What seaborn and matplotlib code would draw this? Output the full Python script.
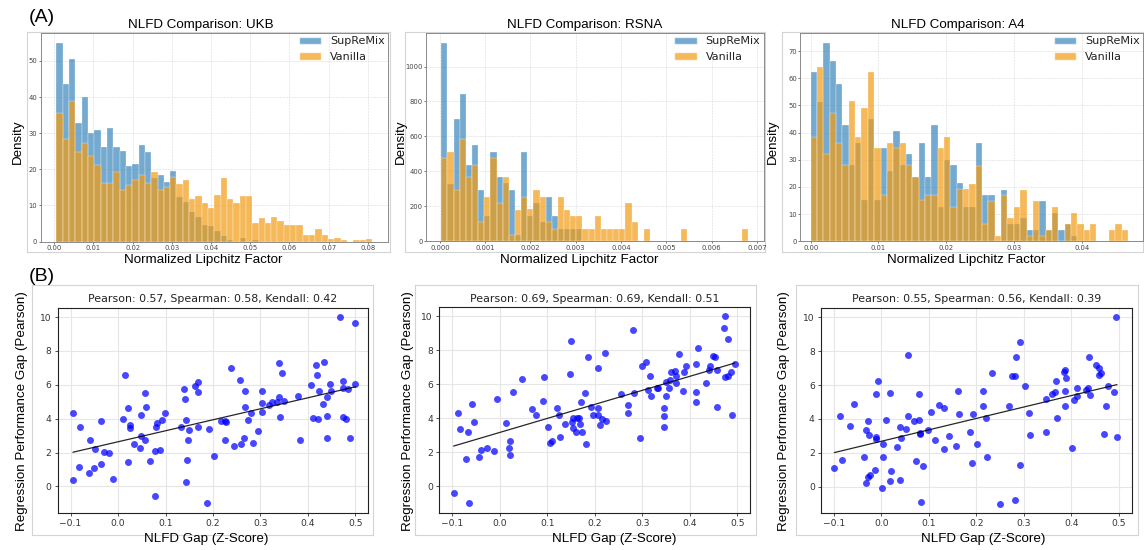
import numpy as np
import pandas as pd
import matplotlib
matplotlib.use("Agg")
import matplotlib.pyplot as plt
from matplotlib.patches import Patch
from matplotlib.ticker import MultipleLocator
import seaborn as sns

sns.set_theme(style="white")
plt.rcParams["font.family"] = ["DejaVu Sans"]

# ---------------- NLFD histograms (density per bin, 50 shared bins) ----------------
ukb_range = (0.0006, 0.0811)
ukb_supremix = [55.0, 43.5, 50.6, 32.9, 40.0, 30.1, 31.0, 26.1, 31.3, 26.1,
                25.0, 21.0, 21.5, 26.8, 24.8, 17.5, 18.4, 16.5, 19.6, 12.3,
                11.0, 8.1, 6.7, 4.7, 4.4, 2.8, 1.6, 0.5, 0.0, 0.9,
                0.0, 0.5, 0, 0, 0, 0, 0, 0, 0, 0,
                0, 0, 0, 0, 0, 0, 0, 0, 0, 0]
ukb_vanilla = [35.7, 28.5, 38.8, 24.7, 27.3, 23.6, 21.2, 16.1, 16.1, 19.3,
               14.4, 15.6, 17.0, 18.4, 16.1, 19.2, 14.2, 15.0, 17.9, 15.8,
               17.0, 11.7, 12.5, 10.7, 9.3, 13.0, 17.7, 11.7, 10.7, 12.5,
               12.5, 5.1, 6.4, 5.0, 6.9, 5.6, 4.7, 4.7, 4.7, 1.9,
               1.9, 3.6, 1.9, 0.7, 0.9, 0.5, 0.0, 0.5, 0.5, 0.7]

rsna_range = (0.00003, 0.00681)
rsna_supremix = [1135, 329, 697, 842, 439, 549, 291, 146, 512, 368,
                 331, 291, 35, 511, 146, 220, 108, 254, 143, 71,
                 71, 71, 71, 0, 0, 0, 0, 0, 0, 0,
                 0, 0, 0, 0, 0, 0, 0, 0, 0, 0,
                 0, 0, 0, 0, 0, 0, 0, 0, 0, 0]
rsna_vanilla = [476, 511, 295, 588, 368, 439, 108, 256, 476, 220,
                368, 35, 181, 254, 183, 291, 254, 108, 71, 254,
                181, 143, 143, 69, 69, 143, 69, 69, 69, 69,
                220, 108, 0, 69, 0, 0, 0, 0, 0, 69,
                0, 0, 0, 0, 0, 0, 0, 0, 0, 69]

a4_range = (0.0, 0.0468)
a4_supremix = [62.2, 51.4, 73.0, 66.3, 57.8, 42.7, 27.9, 36.3, 15.1, 44.9,
               15.1, 34.2, 25.7, 40.6, 27.9, 32.0, 23.6, 36.3, 23.6, 42.8,
               12.8, 29.9, 27.9, 21.5, 12.6, 12.6, 36.3, 16.9, 16.9, 0.0,
               19.0, 6.4, 6.4, 8.5, 4.2, 4.2, 14.7, 4.2, 10.4, 4.2,
               6.4, 2.0, 0, 0, 0, 0, 0, 0, 0, 0]
a4_vanilla = [38.5, 64.3, 32.0, 47.2, 36.3, 27.9, 51.5, 38.5, 49.1, 62.2,
              34.2, 17.2, 36.3, 34.2, 36.3, 27.9, 23.6, 15.1, 17.2, 17.2,
              34.2, 38.5, 12.8, 19.3, 19.3, 21.2, 27.7, 6.4, 14.7, 2.0,
              16.9, 8.5, 12.6, 19.0, 2.0, 14.7, 2.0, 4.2, 12.6, 0.0,
              6.4, 10.4, 6.4, 4.2, 6.4, 0.0, 0.0, 4.2, 6.4, 4.2]

hist_titles = ["NLFD Comparison: UKB", "NLFD Comparison: RSNA", "NLFD Comparison: A4"]
series_names = ["SupReMix", "Vanilla"]

# ---------------- NLFD gap vs. regression performance gap ----------------
ukb_gap_x = [-0.095, -0.094, -0.082, -0.080, -0.062, -0.060, -0.051, -0.049, -0.036, -0.035,
             -0.029, -0.018, -0.010, 0.010, 0.014, 0.021, 0.021, 0.026, 0.026, 0.034,
             0.047, 0.049, 0.049, 0.056, 0.056, 0.059, 0.068, 0.077, 0.077, 0.081,
             0.082, 0.088, 0.093, 0.099, 0.133, 0.139, 0.141, 0.144, 0.144, 0.146,
             0.148, 0.150, 0.162, 0.168, 0.169, 0.169, 0.188, 0.191, 0.203, 0.216,
             0.226, 0.228, 0.226, 0.238, 0.245, 0.256, 0.258, 0.268, 0.268, 0.266,
             0.273, 0.280, 0.284, 0.294, 0.304, 0.303, 0.304, 0.318, 0.324, 0.334,
             0.339, 0.340, 0.342, 0.346, 0.349, 0.379, 0.384, 0.407, 0.410, 0.417,
             0.420, 0.421, 0.424, 0.431, 0.433, 0.440, 0.441, 0.440, 0.446, 0.448,
             0.468, 0.473, 0.473, 0.473, 0.481, 0.484, 0.488, 0.498, 0.500]
ukb_gap_y = [4.31, 0.39, 1.14, 3.53, 0.80, 2.73, 1.10, 2.22, 3.86, 1.31,
             2.02, 1.98, 0.41, 3.98, 6.55, 4.61, 1.47, 3.63, 3.47, 2.49,
             2.29, 4.22, 2.98, 2.76, 5.51, 4.69, 1.51, -0.59, 2.10, 3.53,
             3.76, 2.16, 3.90, 4.35, 3.53, 5.78, 5.18, 3.94, 0.25, 1.59,
             2.76, 3.35, 5.94, 5.55, 6.14, 3.53, -1.00, 3.39, 1.78, 3.84,
             3.84, 3.78, 2.76, 6.98, 2.41, 6.29, 2.53, 5.63, 4.69, 2.88,
             3.90, 4.35, 2.57, 3.27, 5.63, 4.90, 4.41, 4.82, 5.00, 5.00,
             7.31, 5.25, 4.12, 6.71, 5.06, 5.35, 2.76, 6.00, 4.04, 7.16,
             6.57, 3.96, 5.61, 4.86, 7.37, 5.29, 4.18, 2.84, 6.02, 5.65,
             10.0, 6.22, 5.80, 4.12, 3.96, 5.78, 2.88, 6.04, 9.65]

rsna_gap_x = [-0.097, -0.088, -0.083, -0.071, -0.066, -0.064, -0.058, -0.053, -0.043, -0.040,
              -0.026, -0.012, -0.006, 0.013, 0.019, 0.022, 0.022, 0.028, 0.048, 0.068,
              0.077, 0.091, 0.094, 0.102, 0.105, 0.110, 0.121, 0.126, 0.128, 0.137,
              0.149, 0.151, 0.152, 0.155, 0.155, 0.160, 0.163, 0.168, 0.170, 0.172,
              0.173, 0.179, 0.182, 0.187, 0.193, 0.197, 0.207, 0.207, 0.208, 0.211,
              0.216, 0.222, 0.224, 0.256, 0.270, 0.270, 0.281, 0.283, 0.295, 0.299,
              0.308, 0.313, 0.316, 0.318, 0.332, 0.333, 0.345, 0.345, 0.345, 0.350,
              0.351, 0.357, 0.359, 0.360, 0.369, 0.371, 0.372, 0.378, 0.385, 0.388,
              0.393, 0.413, 0.414, 0.414, 0.417, 0.434, 0.440, 0.442, 0.449, 0.454,
              0.457, 0.458, 0.472, 0.475, 0.475, 0.481, 0.481, 0.487, 0.489, 0.495]
rsna_gap_y = [-0.37, 4.28, 3.36, 1.62, 3.18, -1.00, 4.82, 3.77, 1.74, 2.13,
              2.25, 2.09, 5.14, 3.73, 2.25, 2.68, 1.86, 5.53, 6.31, 4.55,
              4.20, 5.02, 6.43, 3.50, 2.56, 2.68, 4.59, 4.16, 2.87, 3.65,
              6.58, 8.52, 3.77, 4.04, 3.42, 3.18, 4.00, 4.04, 3.65, 4.94,
              3.18, 5.49, 2.48, 7.62, 4.67, 4.16, 6.97, 4.20, 4.59, 3.61,
              3.93, 7.81, 3.85, 5.45, 4.75, 4.32, 9.20, 5.49, 2.83, 7.09,
              7.29, 5.64, 6.46, 5.29, 5.80, 5.80, 4.59, 4.12, 3.50, 6.11,
              5.29, 5.76, 6.27, 6.74, 6.78, 6.07, 6.50, 7.75, 5.61, 6.70,
              7.09, 5.53, 4.94, 7.17, 8.14, 6.07, 6.86, 7.05, 7.68, 7.60,
              6.82, 4.67, 9.32, 10.0, 6.43, 8.65, 6.50, 6.70, 4.16, 7.17]

a4_gap_x = [-0.099, -0.087, -0.082, -0.066, -0.057, -0.037, -0.033, -0.033, -0.029, -0.028,
            -0.027, -0.024, -0.013, -0.012, -0.012, -0.011, -0.007, 0.001, 0.003, 0.004,
            0.009, 0.018, 0.018, 0.020, 0.034, 0.039, 0.039, 0.041, 0.051, 0.056,
            0.057, 0.068, 0.073, 0.079, 0.079, 0.082, 0.082, 0.084, 0.087, 0.098,
            0.105, 0.114, 0.121, 0.131, 0.132, 0.142, 0.158, 0.161, 0.164, 0.187,
            0.191, 0.194, 0.202, 0.215, 0.215, 0.220, 0.222, 0.232, 0.250, 0.269,
            0.274, 0.281, 0.281, 0.283, 0.291, 0.292, 0.303, 0.311, 0.312, 0.347,
            0.347, 0.360, 0.365, 0.367, 0.370, 0.384, 0.386, 0.386, 0.386, 0.389,
            0.401, 0.405, 0.412, 0.412, 0.431, 0.435, 0.437, 0.439, 0.451, 0.458,
            0.459, 0.463, 0.468, 0.472, 0.477, 0.489, 0.495, 0.496]
a4_gap_y = [1.09, 4.20, 1.58, 3.57, 4.86, 1.78, 3.34, 0.21, 0.57, 3.89,
            3.07, 0.72, 1.00, 5.45, 2.91, 2.79, 6.23, -0.06, 2.52, 1.78,
            3.96, 5.53, 0.33, 0.92, 2.36, 0.37, 3.50, 2.87, 3.42, 4.16,
            7.77, 3.89, 1.54, 5.49, 3.96, 3.18, 3.11, -0.88, 1.23, 3.34,
            4.39, 2.75, 4.82, 2.21, 4.67, 2.99, 2.40, 5.64, 4.32, 3.22,
            1.39, 4.28, 2.52, 5.64, 4.78, 4.08, 1.74, 6.70, -1.00, 4.78,
            6.54, 6.54, -0.76, 7.68, 8.54, 1.31, 5.92, 4.36, 3.07, 3.26,
            5.18, 5.49, 5.57, 6.27, 4.04, 6.78, 6.89, 5.68, 4.75, 6.43,
            2.29, 5.10, 5.80, 5.33, 5.72, 5.84, 7.68, 5.41, 7.21, 7.01,
            6.58, 6.74, 3.14, 4.79, 5.96, 5.57, 10.0, 2.91]

corr_titles = ["Pearson: 0.57, Spearman: 0.58, Kendall: 0.42",
               "Pearson: 0.69, Spearman: 0.69, Kendall: 0.51",
               "Pearson: 0.55, Spearman: 0.56, Kendall: 0.39"]

# ---------------- figure & helpers (pixel layout) ----------------
W, H = 1144, 550
fig = plt.figure(figsize=(W / 100, H / 100), dpi=100)
fig.patch.set_facecolor("white")

BLUE, BLUE_A = "#1f77b4", 0.62
ORANGE, ORANGE_A = "#f39c12", 0.70
SANS = "Liberation Sans"


def box(l, t, r, b):
    return fig.add_axes([l / W, 1 - b / H, (r - l) / W, (b - t) / H])


def frame(l, t, r, b):
    ax = box(l, t, r, b)
    ax.set_xticks([])
    ax.set_yticks([])
    ax.patch.set_alpha(0)
    for s in ax.spines.values():
        s.set_color("#d4d4d4")
        s.set_linewidth(0.8)
    return ax


def text(x, y, s, size=9.6, rotation=0, va="baseline", family=SANS, color="black"):
    fig.text(x / W, 1 - y / H, s, ha="center", va=va, rotation=rotation,
             fontsize=size, family=family, color=color)


# ---------------- row (A): histograms ----------------
hist_data = [(ukb_range, ukb_supremix, ukb_vanilla),
             (rsna_range, rsna_supremix, rsna_vanilla),
             (a4_range, a4_supremix, a4_vanilla)]
hist_frames = [(27, 31.7, 389.5, 251.5), (405, 31.7, 765, 251.5), (781.7, 31.7, 1143.3, 251.5)]
hist_inner = [(40.7, 33, 388, 241.5), (426, 33, 763.5, 241.3), (800.5, 33, 1143, 241.3)]
hist_xstep = [0.01, 0.001, 0.01]
hist_ystep = [10, 200, 10]
hist_xlim = [None, None, (-0.0015, 0.049)]
hist_title_x = [200.8, 584.3, 957.5]
hist_xlabel_x = [203, 579.7, 966.7]
hist_ylabel_x = [17.5, 401, 773]

for i, ((lo, hi), sup, van) in enumerate(hist_data):
    frame(*hist_frames[i])
    ax = box(*hist_inner[i])
    edges = np.linspace(lo, hi, len(sup) + 1)
    bins_df = pd.DataFrame({
        "nlfd": 0.5 * (edges[:-1] + edges[1:]),
        "sup": np.asarray(sup, dtype=float),
        "van": np.asarray(van, dtype=float),
    })
    sns.histplot(data=bins_df, x="nlfd", weights="sup", bins=list(edges), color=BLUE,
                 alpha=BLUE_A, edgecolor="white", linewidth=0.2, ax=ax)
    sns.histplot(data=bins_df, x="nlfd", weights="van", bins=list(edges), color=ORANGE,
                 alpha=ORANGE_A, edgecolor="white", linewidth=0.2, ax=ax)
    if hist_xlim[i] is not None:
        ax.set_xlim(*hist_xlim[i])
    ax.set_xlabel("")
    ax.set_ylabel("")
    ax.xaxis.set_major_locator(MultipleLocator(hist_xstep[i]))
    ax.yaxis.set_major_locator(MultipleLocator(hist_ystep[i]))
    ax.tick_params(labelsize=4.9, length=1.5, width=0.5, pad=1, colors="#444444",
                   bottom=True, left=True)
    ax.grid(True, ls="--", lw=0.4, color="#d8d8d8")
    ax.set_axisbelow(True)
    for s in ax.spines.values():
        s.set_color("#8a8a8a")
        s.set_linewidth(0.7)
    handles = [Patch(facecolor=BLUE, alpha=BLUE_A, label=series_names[0]),
               Patch(facecolor=ORANGE, alpha=ORANGE_A, label=series_names[1])]
    leg = ax.legend(handles=handles, loc="upper right", frameon=False, fontsize=8,
                    borderaxespad=0.1, borderpad=0.2, handletextpad=0.8)
    for t in leg.get_texts():
        t.set_color("#222222")

    text(hist_title_x[i], 28.3, hist_titles[i])
    text(hist_xlabel_x[i], 263.5, "Normalized Lipchitz Factor")
    text(hist_ylabel_x[i], 141.7, "Density", rotation=90, va="center")

text(41.5, 17.5, "(A)", size=14, va="center")

# ---------------- row (B): gap scatter with fitted line ----------------
gap_data = [(ukb_gap_x, ukb_gap_y), (rsna_gap_x, rsna_gap_y), (a4_gap_x, a4_gap_y)]
gap_frames = [(32.3, 285, 373.3, 535), (415, 285, 756, 535), (796, 285, 1138.3, 535)]
gap_inner = [(57.7, 307.7, 368.3, 512.7), (439.3, 306.7, 750, 512.7), (821, 308, 1131.7, 513)]
gap_title_x = [212.8, 594.7, 976.7]
gap_xlabel_x = [206.7, 614.2, 983]
gap_ylabel_x = [22.5, 408, 784.5]

for i, (gx, gy) in enumerate(gap_data):
    frame(*gap_frames[i])
    ax = box(*gap_inner[i])
    gap_df = pd.DataFrame({"gap": gx, "perf": gy})
    sns.regplot(data=gap_df, x="gap", y="perf", ax=ax, ci=None, color="blue",
                scatter_kws=dict(s=25, alpha=0.72, linewidths=0),
                line_kws=dict(color="black", lw=0.9, alpha=0.85))
    ax.set_xlim(-0.127, 0.527)
    ax.set_ylim(-1.55, 10.55)
    ax.set_xticks([-0.1, 0.0, 0.1, 0.2, 0.3, 0.4, 0.5])
    ax.set_yticks([0, 2, 4, 6, 8, 10])
    ax.set_xlabel("")
    ax.set_ylabel("")
    ax.tick_params(labelsize=6.6, length=2.5, width=0.6, pad=2, colors="#333333",
                   bottom=True, left=True)
    ax.grid(True, color="#e6e6e6", lw=0.8)
    ax.set_axisbelow(True)
    for s in ax.spines.values():
        s.set_color("#222222")
        s.set_linewidth(0.8)

    text(gap_title_x[i], 301.7, corr_titles[i], size=7.9, family="DejaVu Sans", color="#222222")
    text(gap_xlabel_x[i], 542, "NLFD Gap (Z-Score)")
    text(gap_ylabel_x[i], 411, "Regression Performance Gap (Pearson)", rotation=90, va="center")

text(42, 276.5, "(B)", size=14, va="center")

fig.savefig("out.png", dpi=100, facecolor="white")
